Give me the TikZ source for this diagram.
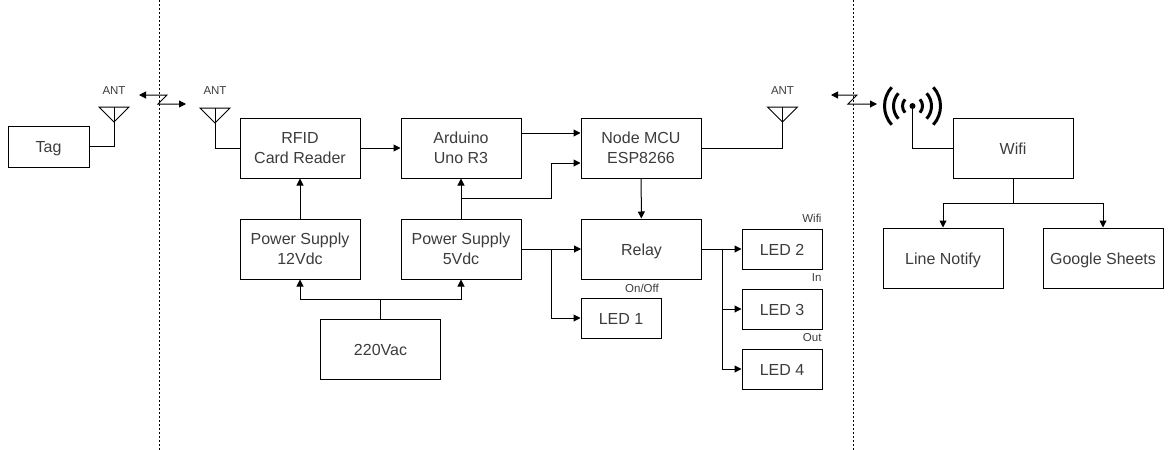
\documentclass[tikz,border=0pt]{standalone}
\usepackage{fontspec}
\setmainfont{Liberation Sans}
\usetikzlibrary{arrows.meta}
\definecolor{labelgray}{HTML}{3C3C3C}
\tikzset{
  diagram/.style={
    x=1pt, y=-1pt,
    line width=1pt,
    font={\fontsize{16}{20}\selectfont},
    text=labelgray,
    link/.style={-{Triangle[length=7pt,width=7pt]}},
    wave/.style={{Triangle[length=7pt,width=7pt]}-{Triangle[length=7pt,width=7pt]}}
  },
  block/.style 2 args={
    draw, rectangle, inner sep=0pt, align=center, text depth=0pt,
    execute at begin node={\rule{0pt}{12pt}},
    minimum width=#1pt, minimum height=#2pt
  },
  note/.style={font={\fontsize{11.5}{13}\selectfont}, inner sep=0pt},
  border/.style={dash pattern=on 2pt off 2pt},
  arcs/.style={line width=3pt}
}
\newcommand{\antenna}[1]{%
  \draw (#1) ++(-15,0) -- ++(30,0) -- ++(-15,15) -- cycle;
  \draw (#1) -- ++(0,15);
}

\begin{document}
\begin{tikzpicture}[diagram]
\useasboundingbox (0,0) rectangle (1168,450);
\draw[border] (159,0) -- (159,450);
\draw[border] (853,0) -- (853,450);

\node[block={81}{41}] (tag) at (48.5,146.5) {Tag};
\node[block={120}{60}] (rfid) at (300,148) {RFID\\Card Reader};
\node[block={120}{60}] (arduino) at (461,148) {Arduino\\Uno R3};
\node[block={120}{60}] (nodemcu) at (641,148) {Node MCU\\ESP8266};
\node[block={120}{60}] (supplyA) at (300,249) {Power Supply\\12Vdc};
\node[block={120}{60}] (supplyB) at (461,249) {Power Supply\\5Vdc};
\node[block={120}{60}] (mains) at (380.5,349.5) {220Vac};
\node[block={120}{60}] (relay) at (641.5,249) {Relay};
\node[block={80}{40}] (ledA) at (621,318) {LED 1};
\node[block={80}{40}] (ledB) at (782,249) {LED 2};
\node[block={80}{40}] (ledC) at (782,309) {LED 3};
\node[block={80}{40}] (ledD) at (782,369) {LED 4};
\node[block={120}{60}] (wifi) at (1013,148) {Wifi};
\node[block={120}{60}] (line) at (943,258) {Line Notify};
\node[block={120}{60}] (sheets) at (1103,258) {Google Sheets};

\node[note] (antA) at (114,91) {ANT};
\node[note] (antB) at (215,91) {ANT};
\node[note] (antC) at (782.5,91) {ANT};
\node[note, anchor=east] (wifiNote) at (822,218) {Wifi};
\node[note, anchor=east] (inNote) at (822,278) {In};
\node[note, anchor=east] (outNote) at (822,338) {Out};
\node[note] (onNote) at (642,288) {On/Off};

\coordinate (tipA) at (114,107);
\coordinate (tipB) at (215,108);
\coordinate (tipC) at (782.5,107);
\coordinate (tipD) at (912.5,106);
\antenna{tipA}
\antenna{tipB}
\antenna{tipC}
\draw (tag.east) -| (tipA);
\draw (rfid.west) -| (tipB);
\draw (nodemcu.east) -| (tipC);
\draw (wifi.west) -| (tipD);

\coordinate (waveA) at (139,95);
\coordinate (waveB) at (186,104);
\coordinate (waveC) at (831,95);
\coordinate (waveD) at (877,104);
\draw[wave] (waveA) -- (167,95) -- (158,104) -- (waveB);
\draw[wave] (waveC) -- (857,95) -- (848,104) -- (waveD);

\fill (tipD) circle (3);
\foreach \r in {10,19,28} {
  \draw[arcs] (tipD) ++(-42:\r) arc (-42:42:\r);
  \draw[arcs] (tipD) ++(138:\r) arc (138:222:\r);
}

\draw[link] (rfid) -- (arduino);
\draw[link] (supplyA) -- (rfid);
\draw[link] (supplyB) -- (arduino);
\draw[link] (arduino.east |- 0,133) -- (nodemcu.west |- 0,133);
\coordinate (split) at (461,198);
\draw[link] (split) -| (551,163) -- (nodemcu.west |- 0,163);
\draw[link] (nodemcu) -- (relay);
\draw[link] (supplyB) -- (relay);
\coordinate (ledSplit) at (551,249);
\draw[link] (ledSplit) |- (ledA);
\draw[link] (relay) -- (ledB);
\coordinate (relaySplit) at (722,249);
\draw[link] (relaySplit) |- (ledC);
\draw[link] (relaySplit) |- (ledD);
\coordinate (mainsSplit) at (380.5,299);
\draw (mains) -- (mainsSplit);
\draw[link] (mainsSplit) -| (supplyA);
\draw[link] (mainsSplit) -| (supplyB);
\coordinate (wifiSplit) at (1013,203);
\draw (wifi) -- (wifiSplit);
\draw[link] (wifiSplit) -| (line);
\draw[link] (wifiSplit) -| (sheets);
\end{tikzpicture}
\end{document}
